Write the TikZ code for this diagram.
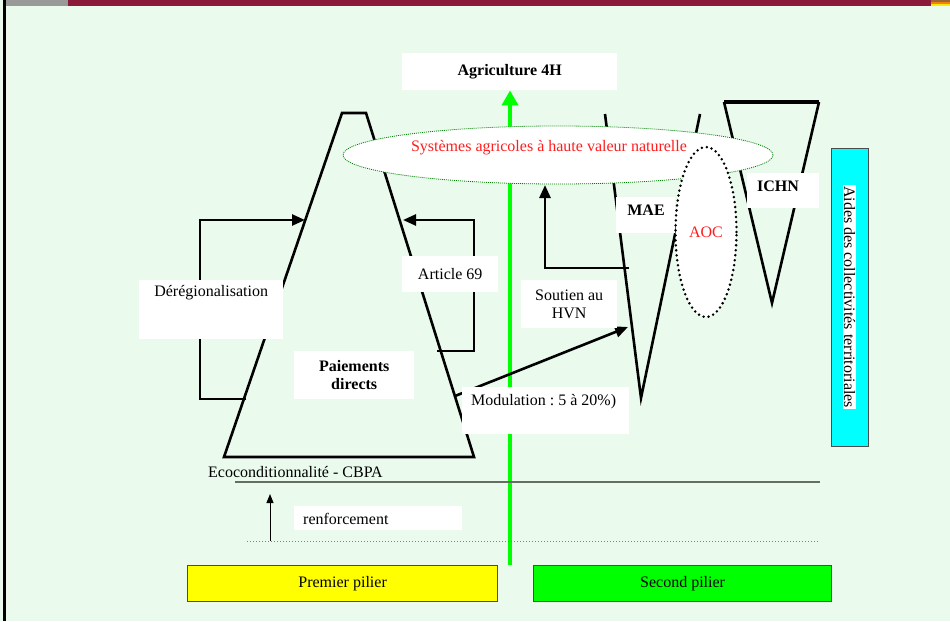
\documentclass[tikz,border=0pt]{standalone}
\usepackage{fontspec}
\setmainfont{Liberation Serif}
\usetikzlibrary{positioning, shapes.geometric, arrows.meta}
\definecolor{fond}{RGB}{234,251,238}
\definecolor{bordeaux}{RGB}{139,26,58}
\definecolor{vertvif}{RGB}{0,255,0}
\definecolor{cyanvif}{RGB}{0,255,255}
\definecolor{jaune}{RGB}{255,255,0}
\definecolor{grisligne}{RGB}{100,110,100}
\definecolor{rougetexte}{RGB}{255,30,30}
\frenchspacing

\begin{document}
\begin{tikzpicture}[x=1pt, y=-1pt, font=\fontsize{16}{18}\selectfont,
  trait/.style={line width=2.6pt, line join=miter},
  fleche/.style={line width=2.6pt, -{Triangle[length=13pt,width=11pt]}},
  boite/.style={fill=white, inner sep=0pt, anchor=north west},
  gras/.style={inner sep=0pt, font=\fontsize{16}{18}\selectfont\bfseries},
  pilier/.style={draw=black!70, line width=1.2pt, inner sep=0pt, anchor=north west, minimum height=36pt}]
\useasboundingbox (0,0) rectangle (950,621);

% fond et bandeau
\fill[fond] (0,0) rectangle (950,621);
\fill[bordeaux] (68,0) rectangle (931,6);
\fill[gray!80] (6,0) rectangle (68,6);
\fill[black] (3,0) rectangle (6,621);
\fill[brown!80!black] (931,0) rectangle (950,2);
\fill[orange!80!brown] (931,2) rectangle (950,4);
\fill[yellow!90!orange] (931,4) rectangle (950,6);

% axe vertical
\node[boite, minimum width=215pt, minimum height=37pt, font=\fontsize{16}{18}\selectfont\bfseries] (agri) at (402,53) {Agriculture 4H};
\coordinate (axebas) at (510,565);
\draw[vertvif, line width=4pt, -{Triangle[length=15pt,width=16pt]}] (axebas) -- (agri.south -| axebas);

% paiements directs
\draw[trait] (224,457) -- (342,113) -- (366,113) -- (474,457) -- cycle;

% second pilier
\draw[trait] (605,114) -- (641,398) -- (700,114);
\draw[trait] (819,102) -- (772,303) -- (724,102);
\draw[line width=3.6pt] (724,102) -- (819,102);

% HVN
\node[ellipse, fill=white, draw=green!50!black, line width=0.8pt, dash pattern=on 1pt off 1pt,
  minimum width=430pt, minimum height=58pt] (hvn) at (558,155) {};
\node[text=rougetexte] (hvntexte) at (549,148) {Systèmes agricoles à haute valeur naturelle};

% fleches
\coordinate (derbas) at (246,399);
\coordinate (derhaut) at (200,220);
\coordinate (gauche) at (305,220);
\draw[fleche] (derbas) -| (derhaut) -- (gauche);
\coordinate (artbas) at (437,351);
\coordinate (arthaut) at (474,220);
\coordinate (droite) at (403,220);
\draw[fleche] (artbas) -| (arthaut) -- (droite);
\coordinate (soutien) at (629,268);
\coordinate (hvnbas) at (545,185);
\draw[fleche] (soutien) -| (hvnbas);
\coordinate (moddep) at (455,396);
\coordinate (mae) at (628,327);
\draw[fleche] (moddep) -- (mae);

% boites de texte
\node[boite, minimum width=144pt, minimum height=59pt] (dereg) at (139,280) {};
\node[below=5pt of dereg.north, inner sep=0pt] (deregtexte) {Dérégionalisation};
\node[boite, minimum width=96pt, minimum height=36pt] (art) at (402,256) {Article 69\hspace{12pt}};
\node[boite, minimum width=120pt, minimum height=48pt, align=center, font=\fontsize{16}{18}\selectfont\bfseries] (pd) at (294,351) {Paiements\\directs};
\node[boite, minimum width=96pt, minimum height=48pt, align=center] (hvnboite) at (521,280) {Soutien au\\HVN};
\node[boite, minimum width=167pt, minimum height=47pt] (modul) at (462,387) {};
\node[anchor=west, inner sep=0pt] (modultexte) at (471,402) {Modulation : 5 à 20\%)};
\node[boite, minimum width=59pt, minimum height=36pt] (maeboite) at (616,197) {};
\node[gras] (maetexte) at (646,210) {MAE};
\node[boite, minimum width=72pt, minimum height=35pt] (ichn) at (747,173) {};
\node[gras] (ichntexte) at (778,186) {ICHN};

% AOC
\node[ellipse, fill=white, draw, line width=2.8pt, dash pattern=on 0pt off 5pt, line cap=round,
  minimum width=61pt, minimum height=170pt, text=rougetexte] (aoc) at (706,232) {AOC};

% collectivites
\node[draw=black!70, fill=cyanvif, line width=1pt, minimum width=37pt, minimum height=298pt, inner sep=0pt] (aides) at (849.5,297) {};
\node[fill=white, rotate=-90, inner sep=1pt] (aidestexte) at (aides) {Aides des collectivités territoriales};

% ecoconditionnalite
\node[anchor=base west, inner sep=0pt] (eco) at (208,477) {Ecoconditionnalité - CBPA};
\draw[grisligne, line width=1.8pt] (235,482) coordinate (ecog) -- (820,482) coordinate (ecod);
\draw[gray, line width=1pt, dotted] (247,541) coordinate (baseg) -- (818,541) coordinate (based);
\coordinate (renfbas) at (270,541);
\coordinate (renfhaut) at (270,494);
\draw[line width=1pt, -{Triangle[length=9pt,width=7pt]}] (renfbas) -- (renfhaut);
\node[boite, minimum width=168pt, minimum height=24pt] (renf) at (294,506) {};
\node[anchor=west, inner sep=0pt] (renftexte) at (303,519) {renforcement};

% piliers
\node[pilier, fill=jaune, minimum width=310pt] (premier) at (187,565) {Premier pilier};
\node[pilier, fill=vertvif, minimum width=298pt] (second) at (533,565) {Second pilier};
\end{tikzpicture}
\end{document}
